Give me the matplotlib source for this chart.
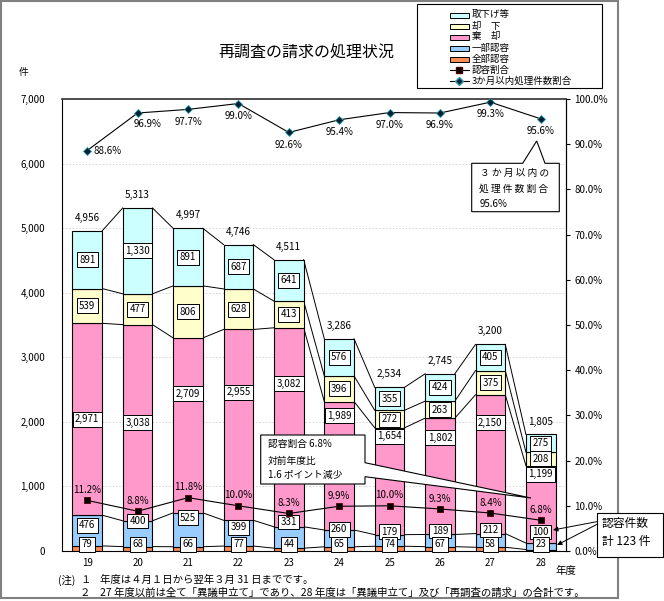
import matplotlib
matplotlib.use('Agg')
import matplotlib.pyplot as plt
from matplotlib.patches import Rectangle, Polygon, FancyArrowPatch
from matplotlib.lines import Line2D
from matplotlib.ticker import FuncFormatter, MultipleLocator
import numpy as np

plt.rcParams['font.family'] = ['Noto Sans CJK JP', 'DejaVu Sans']

# ---------------- data ----------------
years = ['19', '20', '21', '22', '23', '24', '25', '26', '27', '28']
zenbu = [79, 68, 66, 77, 44, 65, 74, 67, 58, 23]            # 全部認容
ichibu = [476, 400, 525, 399, 331, 260, 179, 189, 212, 100]  # 一部認容
kikyaku = [2971, 3038, 2709, 2955, 3082, 1989, 1654, 1802, 2150, 1199]  # 棄却
kyakka = [539, 477, 806, 628, 413, 396, 272, 263, 375, 208]  # 却下
torisage = [891, 1330, 891, 687, 641, 576, 355, 424, 405, 275]  # 取下げ等
totals = [4956, 5313, 4997, 4746, 4511, 3286, 2534, 2745, 3200, 1805]
nin_rate = [11.2, 8.8, 11.8, 10.0, 8.3, 9.9, 10.0, 9.3, 8.4, 6.8]       # 認容割合 (%)
within3 = [88.6, 96.9, 97.7, 99.0, 92.6, 95.4, 97.0, 96.9, 99.3, 95.6]  # 3か月以内処理件数割合 (%)

series_names = ['全部認容', '一部認容', '棄　却', '却　下', '取下げ等']
series_values = [zenbu, ichibu, kikyaku, kyakka, torisage]
line_names = ['認容割合', '3か月以内処理件数割合']

# ---------------- layout / style ----------------
colors = ['#FF8C55', '#99CCFF', '#FF99CC', '#FFFFCC', '#CCFFFF']
kikyaku_label_frac = [0.50, 0.50, 0.68, 0.67, 0.72, 0.89, 0.92, 0.83, 0.80, 0.89]
ichibu_label_at = [400, 465, 515, 370, 450, 335, 300, 310, 325, 295]
zenbu_label_at = 105

W, H = 664, 601
def fx(px):
    return px / W
def fy(py):
    return 1 - py / H

fig = plt.figure(figsize=(W / 100, H / 100), dpi=100)
fig.patch.set_facecolor('white')

ax = fig.add_axes([fx(62), fy(551), 504 / W, 452 / H])
ax2 = ax.twinx()

x = np.arange(len(years))
bw = 0.59

cum = [np.zeros(len(years))]
for vals in series_values:
    cum.append(cum[-1] + np.array(vals))

for k, vals in enumerate(series_values):
    ax.bar(x, vals, bw, bottom=cum[k], color=colors[k], edgecolor='black',
           linewidth=0.8, zorder=2)

# series lines between bars
for k in range(1, len(cum)):
    for i in range(len(years) - 1):
        ax.plot([x[i] + bw / 2, x[i + 1] - bw / 2], [cum[k][i], cum[k][i + 1]],
                color='black', lw=0.7, zorder=1.5)

box = dict(boxstyle='square,pad=0.25', fc='white', ec='black', lw=0.7)
lab_fs = 7
for i in range(len(years)):
    for k in (3, 4):
        yc = cum[k][i] + series_values[k][i] / 2
        ax.text(x[i], yc, f'{series_values[k][i]:,}', ha='center', va='center',
                fontsize=lab_fs, bbox=box, zorder=6)
    yk = cum[2][i] + kikyaku[i] * kikyaku_label_frac[i]
    ax.text(x[i], yk, f'{kikyaku[i]:,}', ha='center', va='center', fontsize=lab_fs,
            bbox=box, zorder=6)
    ax.text(x[i], ichibu_label_at[i], f'{ichibu[i]:,}', ha='center', va='center',
            fontsize=lab_fs, bbox=box, zorder=6)
    ax.text(x[i], zenbu_label_at, f'{zenbu[i]:,}', ha='center', va='center',
            fontsize=lab_fs, bbox=box, zorder=6)
    ax.text(x[i], totals[i] + 200, f'{totals[i]:,}', ha='center', va='center',
            fontsize=7.2, zorder=6)

ax.set_xlim(-0.5, len(years) - 0.5)
ax.set_ylim(0, 7000)
ax.yaxis.set_major_locator(MultipleLocator(1000))
ax.yaxis.set_major_formatter(FuncFormatter(lambda v, p: f'{int(v):,}'))
ax.set_xticks(x)
ax.set_xticklabels(years)
ax.tick_params(axis='x', length=0, pad=5, labelsize=7)
ax.tick_params(axis='y', length=0, pad=12, labelsize=7)
ax.grid(axis='y', color='#d0d0d0', ls=(0, (2, 2)), lw=0.6, zorder=0)
ax.set_axisbelow(True)
for s in ax.spines.values():
    s.set_color('black')
    s.set_linewidth(0.8)
ax.spines['top'].set_color('#404040')
ax.spines['top'].set_linewidth(1.3)

# percentage lines
ax2.set_ylim(0, 100)
ax2.yaxis.set_major_locator(MultipleLocator(10))
ax2.yaxis.set_major_formatter(FuncFormatter(lambda v, p: f'{v:.1f}%'))
ax2.tick_params(axis='y', length=3, width=0.8, pad=3, labelsize=7, direction='out')
for s in ax2.spines.values():
    s.set_visible(False)
ax2.spines['right'].set_visible(True)
ax2.spines['right'].set_color('black')
ax2.spines['right'].set_linewidth(0.8)

ax2.plot(x, nin_rate, color='black', lw=0.8, marker='s', markersize=5,
         mfc='black', mec='#500000', mew=0.6, zorder=4)
ax2.plot(x, within3, color='black', lw=0.8, marker='D', markersize=3.6,
         mfc='#002030', mec='#2a9ab0', mew=0.6, zorder=4)
for i in range(len(years)):
    ax2.text(x[i], nin_rate[i] + 2.3, f'{nin_rate[i]:.1f}%', ha='center', va='center',
             fontsize=7, zorder=6)
    if i == 0:
        ax2.text(x[i] + 0.13, within3[i], f'{within3[i]:.1f}%', ha='left', va='center',
                 fontsize=7, zorder=6)
    elif i == 1:
        ax2.text(x[i] + 0.2, within3[i] - 2.4, f'{within3[i]:.1f}%', ha='center',
                 va='center', fontsize=7, zorder=6)
    else:
        ax2.text(x[i], within3[i] - 2.7, f'{within3[i]:.1f}%', ha='center', va='center',
                 fontsize=7, zorder=6)

# ---------------- figure-level decorations ----------------
fig.add_artist(Rectangle((fx(1), fy(598)), 617 / W, 597 / H, transform=fig.transFigure,
                         fill=False, ec='#808080', lw=1.5))

fig.text(fx(306), fy(53), '再調査の請求の処理状況', ha='center', va='center', fontsize=11.5)
fig.text(fx(24), fy(72), '件', ha='center', va='center', fontsize=7)
fig.text(fx(566), fy(571), '年度', ha='center', va='center', fontsize=7.5)

fig.text(fx(58), fy(580), '(注)', ha='left', va='center', fontsize=7.5)
fig.text(fx(80), fy(580), '１', ha='left', va='center', fontsize=7.5)
fig.text(fx(100), fy(580), '年度は４月１日から翌年３月 31 日までです。', ha='left',
         va='center', fontsize=7.5)
fig.text(fx(80), fy(593), '２', ha='left', va='center', fontsize=7.5)
fig.text(fx(100), fy(593),
         '27 年度以前は全て「異議申立て」であり、28 年度は「異議申立て」及び「再調査の請求」の合計です。',
         ha='left', va='center', fontsize=7.5)

# legend (manual)
fig.add_artist(Rectangle((fx(417), fy(88)), 185 / W, 84 / H, transform=fig.transFigure,
                         fc='white', ec='black', lw=0.8))
leg_labels = [series_names[4], series_names[3], series_names[2], series_names[1],
              series_names[0]]
leg_colors = [colors[4], colors[3], colors[2], colors[1], colors[0]]
for j, (lab, c) in enumerate(zip(leg_labels, leg_colors)):
    yy = 15 + 11 * j
    fig.add_artist(Rectangle((fx(450), fy(yy + 2.5)), 19 / W, 5 / H,
                             transform=fig.transFigure, fc=c, ec='black', lw=0.7))
    fig.text(fx(472), fy(yy), lab, ha='left', va='center', fontsize=6.8)
for j, lab in enumerate(line_names):
    yy = 70 + 11 * j
    fig.add_artist(Line2D([fx(450), fx(469)], [fy(yy), fy(yy)], transform=fig.transFigure,
                          color='black', lw=0.8))
    if j == 0:
        fig.add_artist(Line2D([fx(459.5)], [fy(yy)], transform=fig.transFigure, marker='s',
                              markersize=5, mfc='black', mec='#500000', lw=0))
    else:
        fig.add_artist(Line2D([fx(459.5)], [fy(yy)], transform=fig.transFigure, marker='D',
                              markersize=3.6, mfc='#002030', mec='#2a9ab0', lw=0))
    fig.text(fx(472), fy(yy), lab, ha='left', va='center', fontsize=6.8)

# callout 1
pts1 = [(471.7, 163.3), (522.7, 163.3), (536.7, 141), (545, 163.3), (559.3, 163.3),
        (559.3, 211.7), (471.7, 211.7)]
fig.add_artist(Polygon([(fx(a), fy(b)) for a, b in pts1], closed=True,
                       transform=fig.transFigure, fc='white', ec='black', lw=0.8))
fig.text(fx(480), fy(173), '３ か 月 以 内 の', ha='left', va='center', fontsize=7)
fig.text(fx(479), fy(189), '処 理 件 数 割 合', ha='left', va='center', fontsize=7)
fig.text(fx(480), fy(204), f'{within3[-1]}%', ha='left', va='center', fontsize=7)

# callout 2
pts2 = [(260.7, 435), (365, 435), (365, 462.7), (531, 498), (365, 476.7), (365, 484),
        (260.7, 484)]
fig.add_artist(Polygon([(fx(a), fy(b)) for a, b in pts2], closed=True,
                       transform=fig.transFigure, fc='white', ec='black', lw=0.8))
fig.text(fx(268), fy(444), f'認容割合 {nin_rate[-1]}%', ha='left', va='center', fontsize=7)
fig.text(fx(268), fy(461), '対前年度比', ha='left', va='center', fontsize=7)
fig.text(fx(268), fy(475), f'{nin_rate[-2] - nin_rate[-1]:.1f} ポイント減少', ha='left',
         va='center', fontsize=7)

# callout 3
fig.add_artist(Rectangle((fx(596.7), fy(556.7)), 66.3 / W, 43.4 / H,
                         transform=fig.transFigure, fc='white', ec='black', lw=0.8))
fig.text(fx(602), fy(523), '認容件数', ha='left', va='center', fontsize=8.5)
fig.text(fx(602), fy(541), f'計 {zenbu[-1] + ichibu[-1]} 件', ha='left', va='center',
         fontsize=8.5)
arrow = dict(arrowstyle='-|>', color='black', lw=0.7, mutation_scale=7,
             shrinkA=0, shrinkB=0)
fig.add_artist(FancyArrowPatch((fx(596.7), fy(521.7)), (fx(553), fy(530)),
                               transform=fig.transFigure, **arrow))
fig.add_artist(FancyArrowPatch((fx(596.7), fy(524.5)), (fx(557), fy(545)),
                               transform=fig.transFigure, **arrow))

fig.savefig('out.png', dpi=100)
